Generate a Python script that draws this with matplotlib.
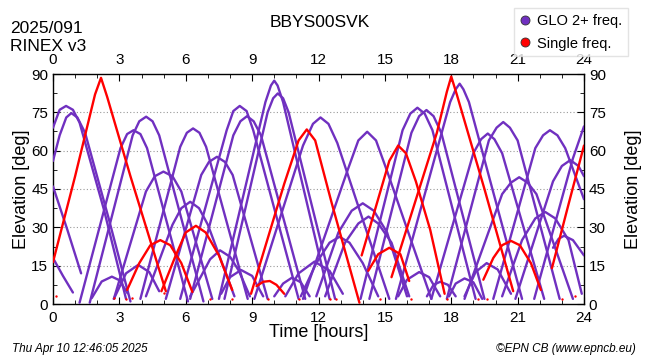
import matplotlib
matplotlib.use("Agg")
import matplotlib.pyplot as plt
from matplotlib.lines import Line2D

plt.rcParams['font.family'] = ['Liberation Sans', 'DejaVu Sans']

# ---------------- data (time [h], elevation [deg]) ----------------
station = "BBYS00SVK"
date_label = "2025/091"
rinex_label = "RINEX v3"
stamp_label = "Thu Apr 10 12:46:05 2025"
credit_label = "\u00a9EPN CB (www.epncb.eu)"
legend_labels = ["GLO 2+ freq.", "Single freq."]

x_ticks = [0, 3, 6, 9, 12, 15, 18, 21, 24]
y_ticks = [0, 15, 30, 45, 60, 75, 90]

# GLONASS multi-frequency passes (purple)
glo_passes = [
    [(0, 69), (0.3, 76), (0.59, 77.5), (0.9, 76), (1.2, 71), (2.3, 37), (3.3, 2)],
    [(0, 56), (0.3, 66), (0.6, 73), (0.83, 74.7), (1.1, 73), (1.45, 67), (2.5, 34), (3.5, 1)],
    [(0, 46), (0.65, 29), (1.27, 12)],
    [(0, 18), (0.45, 11), (0.9, 4.5)],
    [(1.2, 0.5), (3.05, 61), (3.35, 66.5), (3.64, 68), (3.95, 66.5), (4.25, 61), (6.1, 1)],
    [(1.66, 0.5), (3.6, 66), (3.9, 71.5), (4.21, 73.3), (4.5, 71.5), (4.8, 66), (6.8, 1)],
    [(2.75, 2), (4.2, 44), (4.6, 50), (4.99, 51.8), (5.4, 50), (5.8, 44), (7.2, 2)],
    [(1.75, 2.3), (2.2, 8.8), (2.66, 10.7), (3.0, 9.3), (3.37, 4.2)],
    [(2.75, 2), (3.3, 12), (3.85, 15.3), (4.35, 12.5), (4.8, 5)],
    [(3.95, 2), (5.75, 61.5), (6.05, 67), (6.33, 68.7), (6.62, 67), (6.92, 61.5), (8.8, 2)],
    [(4.2, 3), (5.4, 31), (5.8, 37.5), (6.2, 40), (6.6, 37.5), (7.0, 31), (8.2, 3)],
    [(5.1, 2), (6.7, 50.5), (7.05, 55.6), (7.41, 57.6), (7.77, 55.6), (8.12, 50.5), (9.7, 2)],
    [(6.2, 3), (6.7, 11), (7.1, 17.5), (7.55, 21), (8.0, 18.5), (8.4, 13), (8.9, 3)],
    [(5.75, 2), (7.85, 68), (8.15, 75.5), (8.44, 77.5), (8.75, 75.5), (9.05, 68), (11.1, 2)],
    [(6.2, 2), (8.15, 66), (8.47, 71.5), (8.77, 73.5), (9.07, 71.5), (9.4, 66), (11.4, 2)],
    [(7.5, 2), (9.6, 79), (9.85, 85.5), (10.0, 87.4), (10.15, 85.5), (10.4, 79), (12.5, 2)],
    [(7.75, 2), (9.7, 75), (9.95, 80.5), (10.16, 82.4), (10.4, 80.5), (10.65, 75), (12.75, 2)],
    [(9.1, 2), (11.3, 62), (11.75, 70.5), (12.09, 73), (12.45, 70.5), (12.85, 63), (14.0, 33), (15.2, 2)],
    [(11.3, 2), (13.3, 52), (13.8, 64), (14.2, 67.4), (14.6, 64), (15.1, 52), (17.1, 2)],
    [(13.9, 2), (15.8, 68), (16.15, 74.5), (16.47, 76.8), (16.8, 74.5), (17.15, 68), (19.1, 2)],
    [(14.3, 2), (16.2, 67), (16.55, 73.5), (16.88, 75.9), (17.2, 73.5), (17.55, 67), (19.5, 2)],
    [(15.5, 2), (17.95, 79), (18.2, 84), (18.38, 86.2), (18.55, 84), (18.8, 79), (21.2, 2)],
    [(17.1, 2), (19.0, 59), (19.35, 64.5), (19.65, 66.7), (19.95, 64.5), (20.3, 59), (22.2, 2)],
    [(17.8, 2), (19.7, 64), (20.05, 69), (20.35, 71.2), (20.65, 69), (21.0, 64), (22.9, 2)],
    [(18.6, 2), (20.3, 43), (20.7, 47.5), (21.07, 49.6), (21.45, 47.5), (21.85, 43), (23.5, 2)],
    [(19.9, 2), (21.8, 61), (22.15, 66), (22.46, 68), (22.8, 66), (23.15, 61), (24, 41)],
    [(20.9, 2), (22.6, 48), (23.0, 54), (23.38, 56.3), (23.75, 54), (24, 50)],
    [(20.3, 3), (21.2, 25), (21.8, 33.5), (22.25, 36), (22.7, 33.5), (23.3, 25), (23.9, 4)],
    [(22.6, 22), (22.85, 25.5), (23.1, 26.7), (23.5, 25), (24, 19)],
    [(21.75, 2), (23.5, 57), (24, 69.5)],
    [(11.9, 3), (12.9, 28), (13.5, 36.5), (14.0, 39.4), (14.5, 36.5), (15.1, 28), (16.0, 3)],
    [(12.3, 3), (13.2, 24), (13.8, 31.5), (14.26, 34.2), (14.7, 31.5), (15.3, 24), (16.1, 3)],
    [(11.2, 3), (11.9, 16), (12.5, 24), (12.95, 26.3), (13.4, 24), (14.0, 16), (14.7, 3)],
    [(10.5, 3), (11.1, 12), (11.82, 16.6), (12.5, 13), (13.1, 4)],
    [(10.0, 3), (10.4, 8), (10.8, 10.3), (11.2, 8.5), (11.6, 3)],
    [(7.6, 4), (8.0, 10.5), (8.5, 13.3), (9.0, 11), (9.5, 3)],
    [(15.6, 3), (16.0, 9.5), (16.55, 12.5), (17.0, 10.5), (17.5, 3)],
    [(16.9, 3), (17.2, 7.5), (17.5, 8.7), (17.85, 7.5), (18.2, 3)],
    [(17.9, 3), (18.2, 8), (18.6, 10), (19.0, 8.5), (19.4, 2)],
    [(18.6, 3), (19.1, 12.5), (19.6, 16), (20.1, 13.5), (20.7, 4)],
]

# single-frequency passes (red)
single_passes = [
    [(0, 16.4), (1.0, 50), (1.9, 82), (2.17, 88.5), (2.45, 81), (3.5, 50), (5.1, 5)],
    [(3.35, 5.5), (3.9, 16), (4.4, 23), (4.85, 25), (5.3, 23), (5.8, 16), (6.3, 4.7)],
    [(4.9, 5), (5.5, 18), (6.0, 28), (6.46, 30.6), (6.9, 28), (7.5, 19), (8.1, 5.5)],
    [(8.95, 4), (10.45, 47), (11.1, 64), (11.47, 68.3), (11.85, 64), (12.6, 39.4), (13.85, 0.5)],
    [(13.95, 19), (15.2, 56), (15.6, 62), (15.95, 59), (16.4, 48), (17.05, 29), (17.7, 4)],
    [(14.25, 13), (14.7, 19.5), (15.2, 22), (15.7, 19.5), (16.1, 9)],
    [(15.3, 10.5), (17.35, 67), (17.8, 83), (18.0, 89), (18.25, 82), (19.5, 45), (20.8, 5)],
    [(19.45, 9.5), (19.9, 18), (20.3, 23), (20.7, 24.7), (21.1, 23), (21.6, 16), (22.05, 5.5)],
    [(22.55, 14), (23.3, 39), (24, 62)],
    [(9.2, 7), (9.5, 8.7), (9.8, 9), (10.1, 7.5), (10.45, 4)],
]

# short single-frequency tips at low elevation
tip_t = [0.15, 2.75, 3.3, 3.55, 5.0, 7.1, 8.1, 9.7, 11.1, 12.5, 12.8, 14.8, 16.2, 17.8, 19.2, 19.6, 23.0, 23.6]
tip_e = [3, 2.5, 2, 2.5, 4.5, 2, 2, 2, 2, 2, 2, 2, 2, 2, 2, 2, 2, 3]

# ---------------- styling ----------------
purple = "#7030C0"
red = "#FF0000"

fig = plt.figure(figsize=(6.5, 3.6), dpi=100)
ax = fig.add_axes([53 / 650, 56 / 360, 531 / 650, 230 / 360])

for arc in glo_passes:
    ax.plot([p[0] for p in arc], [p[1] for p in arc], color=purple, lw=1.7,
            solid_capstyle='round', solid_joinstyle='round', zorder=3)
for arc in single_passes:
    ax.plot([p[0] for p in arc], [p[1] for p in arc], color=red, lw=1.7,
            solid_capstyle='round', solid_joinstyle='round', zorder=4)
ax.scatter(tip_t, tip_e, s=3, color=red, zorder=5, linewidths=0)

ax.set_xlim(0, 24)
ax.set_ylim(0, 90)
ax.set_xticks(x_ticks)
ax.set_yticks(y_ticks)
ax.set_xticks(range(0, 25), minor=True)
ax.set_yticks([7.5 * i for i in range(13)], minor=True)
ax.tick_params(which='both', direction='in', top=True, right=True,
               labeltop=True, labelright=True, labelsize=11, pad=2)
ax.tick_params(axis='x', which='major', pad=5)
ax.tick_params(axis='y', which='major', pad=3.5)
ax.tick_params(which='major', length=5)
ax.tick_params(which='minor', length=3)
for v in y_ticks[1:-1]:
    ax.axhline(v, color='#999999', lw=0.8, ls=(0, (1, 2)), zorder=1)
for s in ax.spines.values():
    s.set_linewidth(1.0)

ax.set_xlabel("Time [hours]", fontsize=13, labelpad=-1)
ax.set_ylabel("Elevation [deg]", fontsize=13, labelpad=1)
fig.text(0.975, (56 + 115) / 360, "Elevation [deg]", rotation=90, fontsize=13,
         ha='center', va='center')

fig.text(10 / 650, 1 - 33 / 360, date_label, fontsize=12.5, ha='left', va='baseline')
fig.text(10 / 650, 1 - 51 / 360, rinex_label, fontsize=12.5, ha='left', va='baseline')
fig.text(320 / 650, 1 - 27 / 360, station, fontsize=12.5, ha='center', va='baseline')
fig.text(12 / 650, 1 - 352 / 360, stamp_label, fontsize=8.5, style='italic',
         ha='left', va='baseline')
fig.text(636 / 650, 1 - 352 / 360, credit_label, fontsize=8.5, style='italic',
         ha='right', va='baseline')

handles = [Line2D([], [], ls='none', marker='o', ms=6.5, mfc=purple, mec='#333333', mew=0.6),
           Line2D([], [], ls='none', marker='o', ms=6.5, mfc=red, mec='#333333', mew=0.6)]
leg = fig.legend(handles, legend_labels, loc='upper right', bbox_to_anchor=(0.966, 0.978),
                 fontsize=10.5, frameon=True, fancybox=False, edgecolor='#dddddd',
                 handlelength=0.8, handletextpad=0.4, borderpad=0.4, labelspacing=0.6,
                 borderaxespad=0)

fig.savefig("out.png", dpi=100)
